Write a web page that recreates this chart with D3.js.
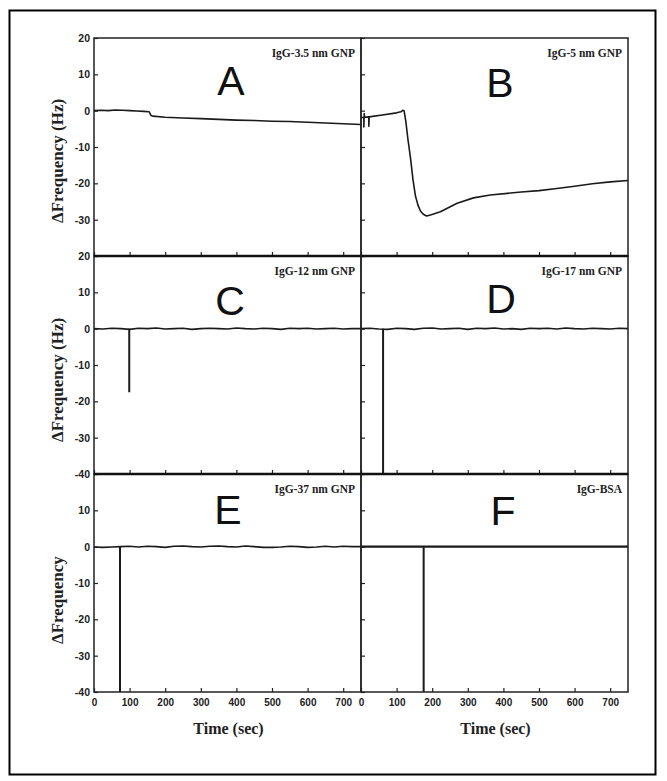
<!DOCTYPE html>
<html>
<head>
<meta charset="utf-8">
<script src="https://cdn.jsdelivr.net/npm/d3@7"></script>
<style>
body { margin: 0; background: #fff; }
</style>
</head>
<body>
<svg id="fig" width="667" height="781"></svg>
<script>
// values: time (sec) vs delta frequency (Hz)
const panelLetters = ["A", "B", "C", "D", "E", "F"];
const panelNames = ["IgG-3.5 nm GNP", "IgG-5 nm GNP", "IgG-12 nm GNP", "IgG-17 nm GNP", "IgG-37 nm GNP", "IgG-BSA"];

const timeA = [0, 20, 40, 60, 80, 100, 120, 140, 155, 160, 165, 200, 250, 300, 350, 400, 450, 500, 550, 600, 650, 700, 750];
const valA = [0, 0.1, 0, 0.2, 0.1, 0, -0.1, -0.2, -0.3, -1.3, -1.5, -1.8, -2.0, -2.2, -2.4, -2.6, -2.7, -2.9, -3.0, -3.2, -3.4, -3.6, -3.8];

const timeB = [0, 8, 8, 9, 10, 22, 22, 23, 60, 100, 112, 117, 121, 126, 132, 139, 146, 153, 160, 167, 175, 184, 195, 223, 270, 316, 363, 450, 500, 550, 600, 650, 700, 750];
const valB = [-1.9, -1.9, -4.5, -0.8, -1.8, -1.7, -4.3, -1.7, -1.2, -0.6, -0.3, 0.1, 0, -3, -8, -13, -19, -23.5, -26, -27.6, -28.5, -29, -28.7, -27.8, -25.5, -24, -23.2, -22.4, -22, -21.4, -20.8, -20.1, -19.6, -19.2];

const noiseTime = [0, 25, 50, 75, 100, 125, 150, 175, 200, 225, 250, 275, 300, 325, 350, 375, 400, 425, 450, 475, 500, 525, 550, 575, 600, 625, 650, 675, 700, 725, 750];
const noiseC = [0, -0.1, 0.1, 0, -0.2, 0.1, 0, 0.2, -0.1, 0, 0.1, -0.2, 0, 0.1, 0, -0.1, 0.2, 0, -0.1, 0.1, 0, -0.2, 0.1, 0, 0.1, -0.1, 0, 0.1, -0.1, 0, 0];
const noiseD = [0, 0.1, -0.1, -0.2, 0.1, 0, -0.2, 0.1, 0.2, -0.1, 0, 0.1, -0.2, 0.1, 0, 0.2, -0.1, 0, -0.2, 0.1, 0, 0.1, -0.1, 0.2, 0, -0.1, 0.1, 0, -0.1, 0.1, 0];
const noiseE = [-0.1, -0.2, -0.1, 0, 0.1, -0.1, 0.1, 0, -0.2, 0.1, 0.2, 0, -0.1, 0.1, 0.2, 0, -0.1, 0.2, 0, -0.2, -0.2, -0.1, 0.1, 0, -0.2, -0.1, 0.1, -0.1, 0.1, 0, 0];
const timeF = [0, 750];
const valF = [0, 0];

// single-point drops seen as vertical lines
const spikeTime = [null, null, 99, 62, 73, 176];
const spikeDepth = [null, null, -17.5, -40, -40, -40];

const xTicks = [0, 100, 200, 300, 400, 500, 600, 700];
const yTicks = [20, 10, 0, -10, -20, -30, -40];
const yLabelRows = [
    [20, 10, 0, -10, -20, -30],
    [20, 10, 0, -10, -20, -30, -40],
    [10, 0, -10, -20, -30, -40]
];
const yTitles = ["\u0394Frequency (Hz)", "\u0394Frequency (Hz)", "\u0394Frequency"];

const seriesTime = [timeA, timeB, noiseTime, noiseTime, noiseTime, timeF];
const seriesVal = [valA, valB, noiseC, noiseD, noiseE, valF];

// layout
const colX = [94, 361, 628];
const rowTop = [38, 256, 474];
const rowH = 218;
const titleBottom = [223, 442, 644];
const letterPos = [[231, 95], [500, 97], [230, 315], [501, 313], [228, 524], [503, 525]];

var svg = d3.select("#fig");

svg.append("rect")
    .attr("x", 9.5).attr("y", 10.5)
    .attr("width", 646).attr("height", 764)
    .attr("fill", "none").attr("stroke", "#000").attr("stroke-width", 2);

function drawPanel(i) {
    var col = i % 2, row = Math.floor(i / 2);
    var x = d3.scaleLinear().domain([0, 750]).range([colX[col], colX[col + 1]]);
    var y = d3.scaleLinear().domain([-40, 20]).range([rowTop[row] + rowH, rowTop[row]]);
    var g = svg.append("g");

    // y axis, ticks inward
    var yAxis = d3.axisLeft(y).tickValues(yTicks).tickSize(-4).tickPadding(4)
        .tickFormat(function (d) { return (col == 0 && yLabelRows[row].indexOf(d) >= 0) ? d : ""; });
    var ga = g.append("g").attr("transform", "translate(" + colX[col] + ",0)").call(yAxis);
    ga.select(".domain").remove();
    ga.selectAll("line").attr("stroke", "#222").attr("stroke-width", 1.2);
    ga.selectAll("text").attr("font-family", "Liberation Sans, Arial, sans-serif")
        .attr("font-weight", "bold").attr("font-size", 10.5).attr("fill", "#222");

    // x axis at bottom, ticks inward
    var xAxis = d3.axisBottom(x).tickValues(xTicks).tickSize(-4).tickPadding(7)
        .tickFormat(function (d) { return row == 2 ? d : ""; });
    var gx = g.append("g").attr("transform", "translate(0," + (rowTop[row] + rowH) + ")").call(xAxis);
    gx.select(".domain").remove();
    gx.selectAll("line").attr("stroke", "#222").attr("stroke-width", 1.2);
    gx.selectAll("text").attr("font-family", "Liberation Sans, Arial, sans-serif")
        .attr("font-weight", "bold").attr("font-size", 10).attr("fill", "#222");

    // data trace
    var pts = seriesTime[i].map(function (t, k) { return [t, seriesVal[i][k]]; });
    var line = d3.line().x(function (d) { return x(d[0]); }).y(function (d) { return y(d[1]); });
    g.append("path").attr("d", line(pts))
        .attr("fill", "none").attr("stroke", "#1a1a1a")
        .attr("stroke-width", i == 5 ? 2.2 : 1.6).attr("stroke-linejoin", "round");

    if (spikeTime[i] != null) {
        g.append("line")
            .attr("x1", x(spikeTime[i])).attr("x2", x(spikeTime[i]))
            .attr("y1", y(0)).attr("y2", y(spikeDepth[i]))
            .attr("stroke", "#1a1a1a").attr("stroke-width", 2);
    }

    // frame
    g.append("rect")
        .attr("x", colX[col]).attr("y", rowTop[row])
        .attr("width", colX[col + 1] - colX[col]).attr("height", rowH)
        .attr("fill", "none").attr("stroke", "#222").attr("stroke-width", 1.5);
    if (row > 0) {
        g.append("line")
            .attr("x1", colX[col]).attr("x2", colX[col + 1])
            .attr("y1", rowTop[row]).attr("y2", rowTop[row])
            .attr("stroke", "#111").attr("stroke-width", 2.6);
    }

    // labels
    g.append("text").text(panelNames[i])
        .attr("x", colX[col + 1] - 6).attr("y", rowTop[row] + 19)
        .attr("text-anchor", "end")
        .attr("font-family", "Liberation Serif, Times New Roman, serif")
        .attr("font-weight", "bold").attr("font-size", 11.5).attr("fill", "#222");

    g.append("text").text(panelLetters[i])
        .attr("x", letterPos[i][0]).attr("y", letterPos[i][1])
        .attr("text-anchor", "middle")
        .attr("font-family", "Liberation Sans, Arial, sans-serif")
        .attr("font-size", 41).attr("fill", "#111");
}

for (let i = 0; i < 6; i++) {
    drawPanel(i);
}

// axis titles
for (let r = 0; r < 3; r++) {
    svg.append("text").text(yTitles[r])
        .attr("transform", "translate(63," + titleBottom[r] + ") rotate(-90)")
        .attr("text-anchor", "start")
        .attr("font-family", "Liberation Serif, Times New Roman, serif")
        .attr("font-weight", "bold").attr("font-size", 17).attr("fill", "#222");
}
[0, 1].forEach(function (c) {
    svg.append("text").text("Time (sec)")
        .attr("x", (colX[c] + colX[c + 1]) / 2 + 1).attr("y", 734)
        .attr("text-anchor", "middle")
        .attr("font-family", "Liberation Serif, Times New Roman, serif")
        .attr("font-weight", "bold").attr("font-size", 16).attr("fill", "#222");
});
</script>
</body>
</html>
